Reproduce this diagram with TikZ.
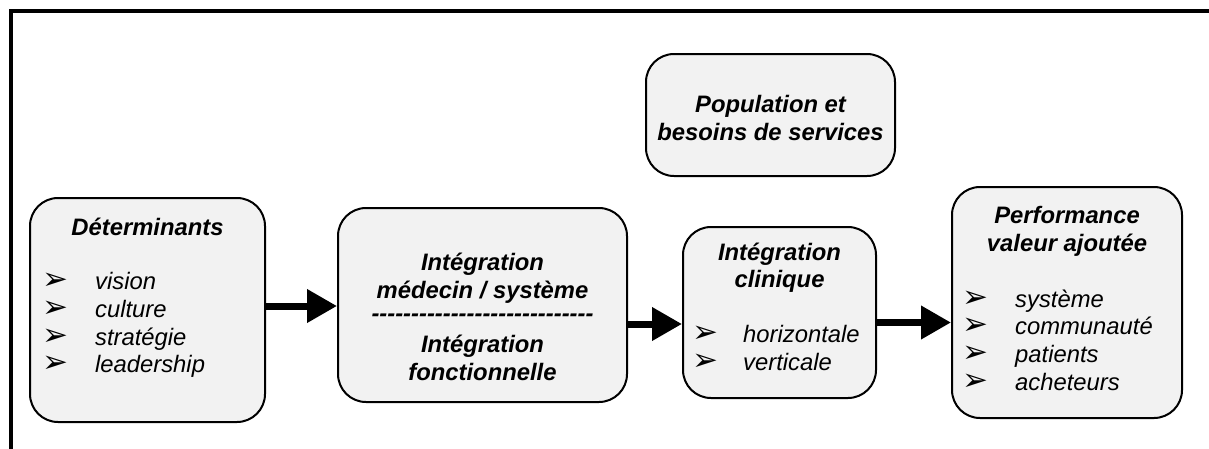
\documentclass[tikz,border=0pt]{standalone}
\usepackage{fontspec}
\setmainfont{Liberation Sans}
\newfontfamily\symfont{DejaVu Sans}
\usetikzlibrary{arrows.meta}
\newcommand{\arrbul}{{\symfont\fontsize{31}{31}\selectfont ➢}}
\tikzset{box/.style = {draw, line width = 2, rounded corners = 28, fill = black!5, inner sep = 0}}
\tikzset{ttl/.style = {font = \bfseries\itshape, anchor = base, inner sep = 0}}
\tikzset{itm/.style = {font = \itshape, anchor = base west, inner sep = 0}}
\tikzset{bul/.style = {anchor = base, inner sep = 0, text height = 14pt, text depth = 0pt}}
\tikzset{flow/.style = {line width = 7, -{Triangle[length = 30pt, width = 32pt]}}}

\begin{document}
\fontsize{23.8}{28}\selectfont
\begin{tikzpicture}[x = 1pt, y = -1pt]
    \useasboundingbox (0, 0) rectangle (1209, 448);
    \draw [line width = 3.5] (1215, 11) -- (11, 11) -- (11, 455);

    % boxes
    \node [box, minimum width = 235, minimum height = 224] (det) at (147.5, 310) {};
    \node [box, minimum width = 289, minimum height = 194] (med) at (482.5, 305) {};
    \node [box, minimum width = 193, minimum height = 171] (clin) at (779.5, 312.5) {};
    \node [box, minimum width = 230, minimum height = 231] (perf) at (1067, 302.5) {};
    \node [box, minimum width = 249, minimum height = 122] (pop) at (770.5, 115) {};

    \draw [flow] ([yshift = 4pt] det.east) -- ([yshift = 4pt] det.east -| med.west);
    \draw [flow] ([yshift = -19pt] med.east) -- ([yshift = -19pt] med.east -| clin.west);
    \draw [flow] ([yshift = -10pt] clin.east) -- ([yshift = -10pt] clin.east -| perf.west);

    % Determinants
    \node [ttl] (det-t) at (147.5, 235) {Déterminants};
    \foreach \txt [count = \k] in {vision, culture, stratégie, leadership} {
      \node [bul] (det-b\k) at (55, {262 + 27.7*\k}) {\arrbul};
      \node [itm] (det-i\k) at (95, {262 + 27.7*\k}) {\txt};
    }

    % integration medecin
    \node [ttl] (med-t1) at (482.5, 270) {Intégration};
    \node [ttl] (med-t2) at (482.5, 298) {médecin / système};
    \node [ttl, anchor = center] (med-sep) at (482.5, 318) {\foreach \i in {1,...,28}{-}};
    \node [ttl] (med-t3) at (482.5, 352) {Intégration};
    \node [ttl] (med-t4) at (482.5, 380) {fonctionnelle};

    % integration clinique
    \node [ttl] (clin-t1) at (779.5, 260) {Intégration};
    \node [ttl] (clin-t2) at (779.5, 287) {clinique};
    \foreach \txt [count = \k] in {horizontale, verticale} {
      \node [bul] (clin-b\k) at (705, {314 + 28*\k}) {\arrbul};
      \node [itm] (clin-i\k) at (743, {314 + 28*\k}) {\txt};
    }

    % performance
    \node [ttl] (perf-t1) at (1067, 223) {Performance};
    \node [ttl] (perf-t2) at (1067, 251) {valeur ajoutée};
    \foreach \txt [count = \k] in {système, communauté, patients, acheteurs} {
      \node [bul] (perf-b\k) at (975, {279.3 + 27.7*\k}) {\arrbul};
      \node [itm] (perf-i\k) at (1015, {279.3 + 27.7*\k}) {\txt};
    }

    % population
    \node [ttl] (pop-t1) at (770.5, 112) {Population et};
    \node [ttl] (pop-t2) at (770.5, 140) {besoins de services};
  \end{tikzpicture}
\end{document}
